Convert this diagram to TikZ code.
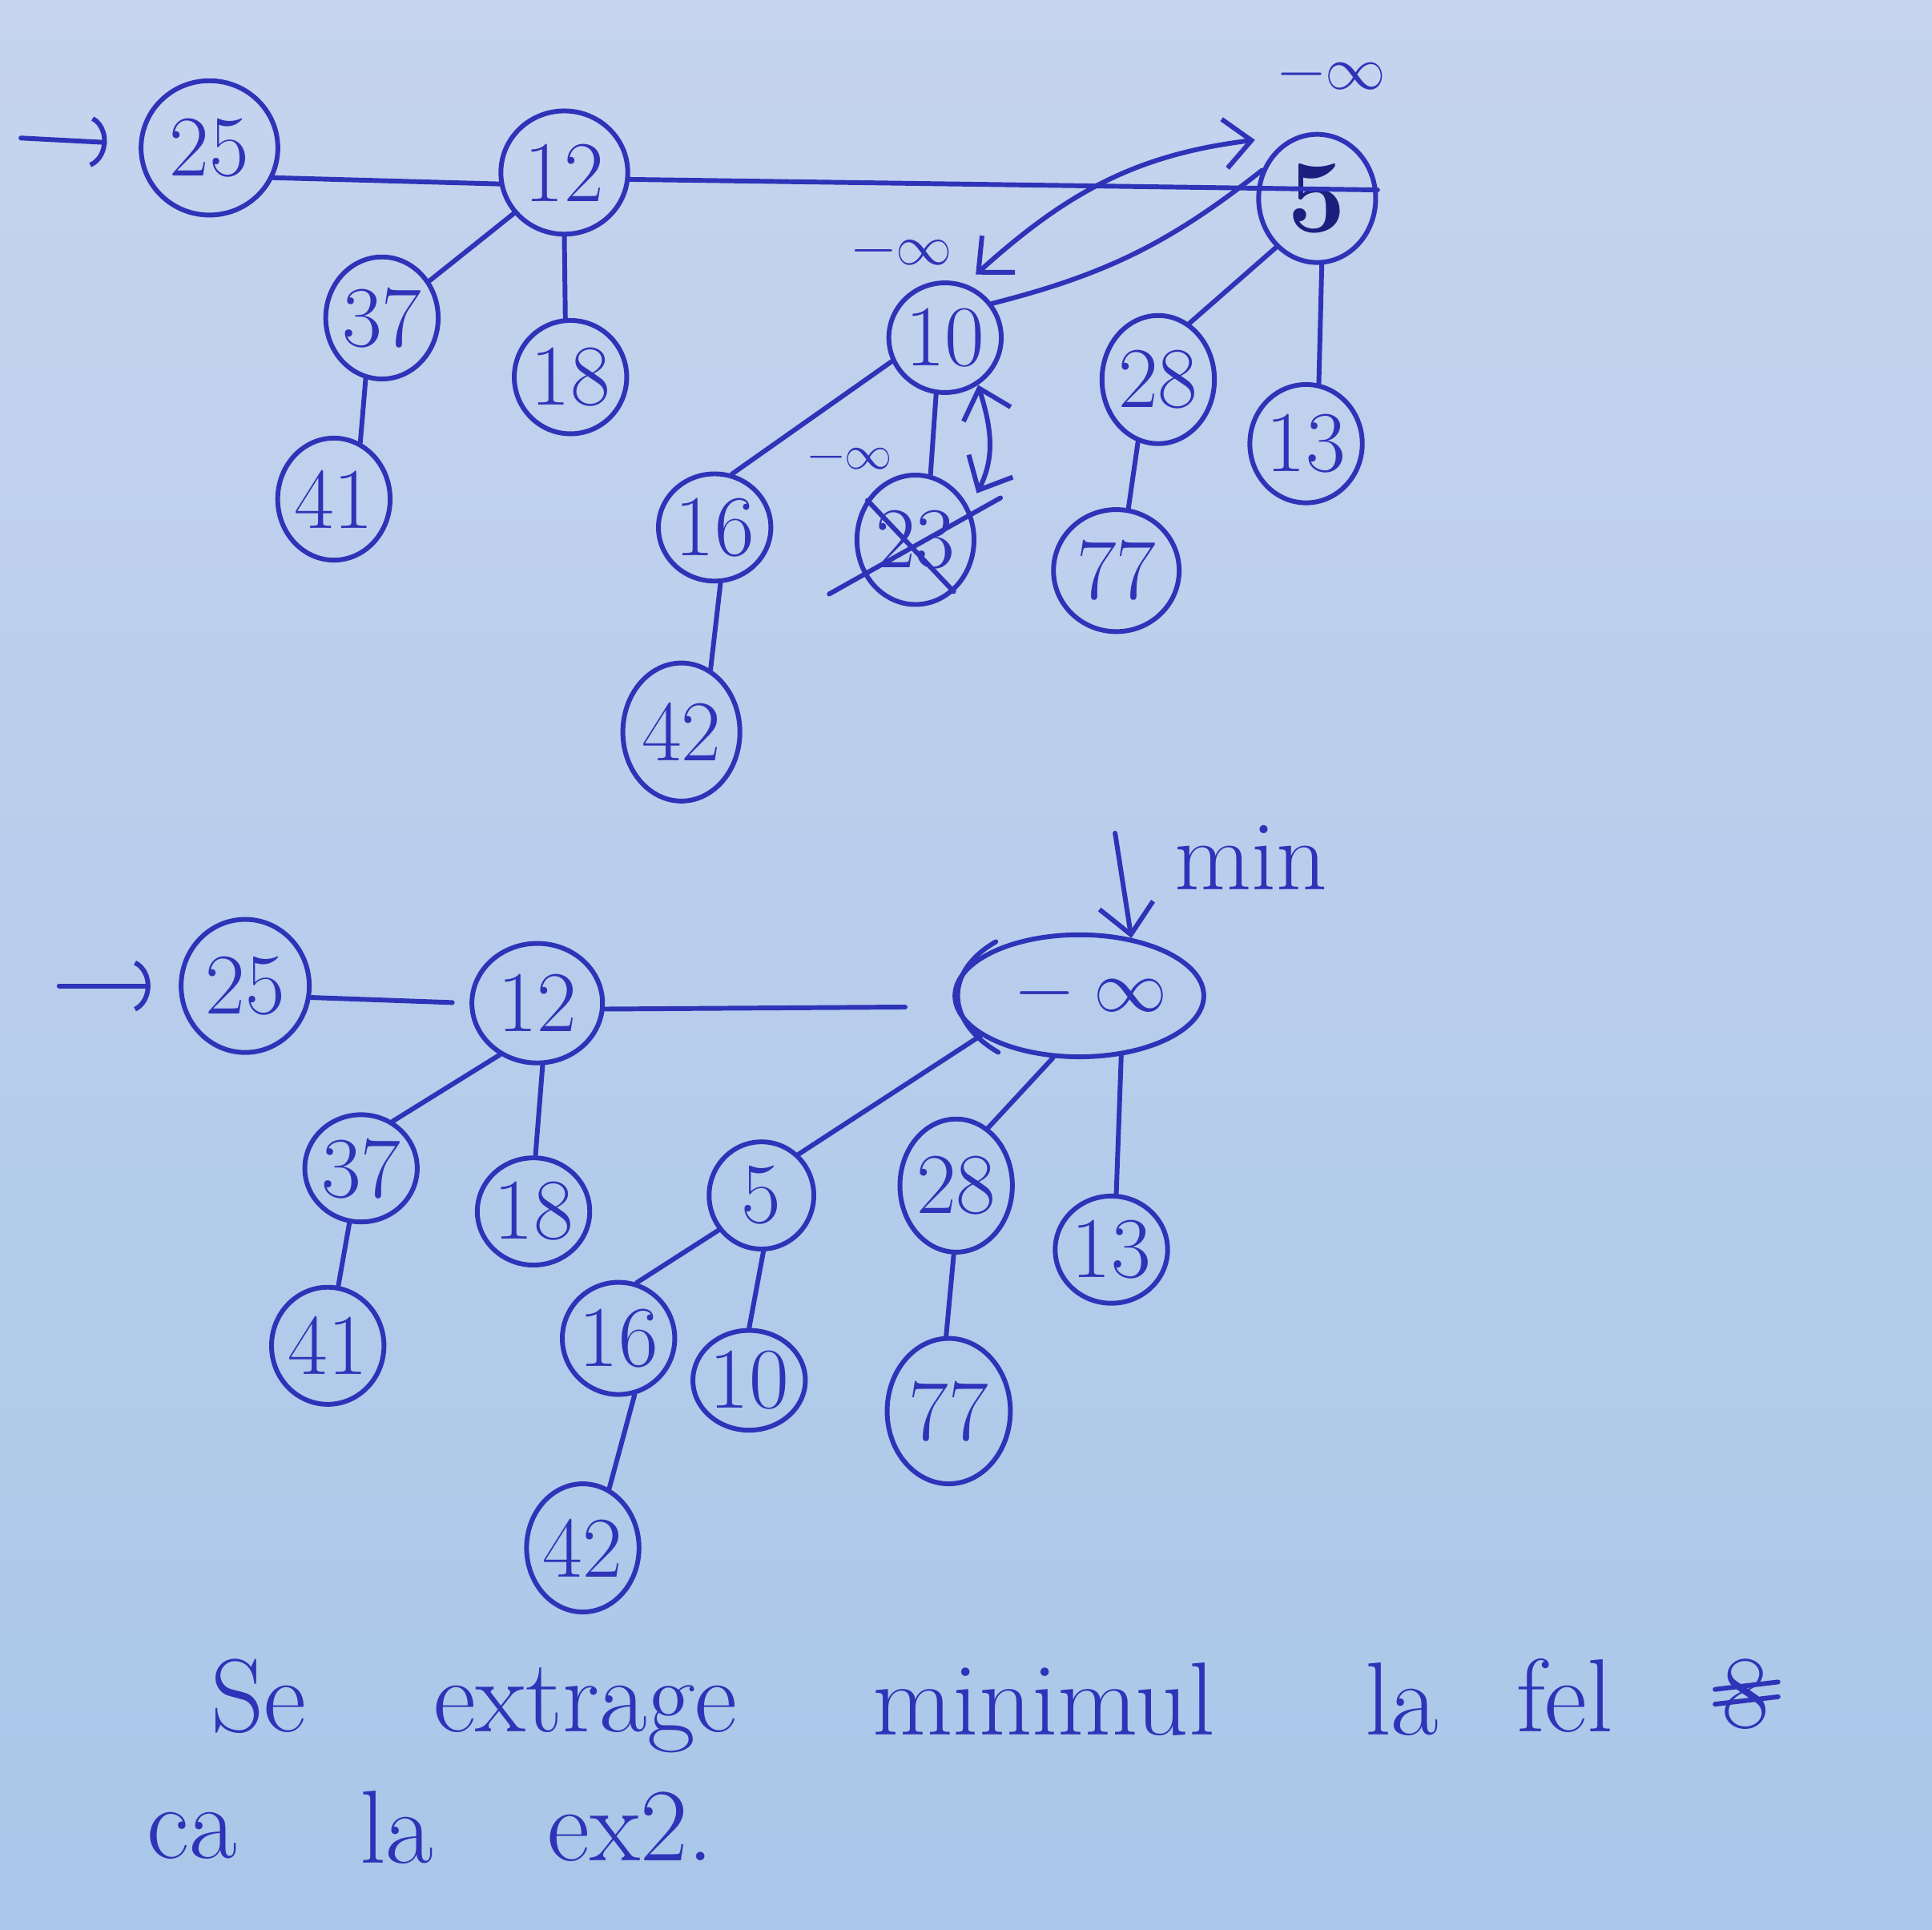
\documentclass[tikz,border=0pt]{standalone}
\usepackage{unicode-math}
\usetikzlibrary{shapes.geometric,arrows.meta,calc}
\definecolor{ink}{HTML}{2E33B8}
\definecolor{inkdark}{HTML}{1C1F7E}
\definecolor{papertop}{HTML}{C6D4EE}
\definecolor{paperbot}{HTML}{A9C7E9}

\begin{document}
\begin{tikzpicture}[x=0.1mm,y=-0.1mm,
  hn/.style={ellipse, draw=ink, line width=1.1pt, inner sep=0pt, text=ink,
             font=\fontsize{20}{20}\selectfont},
  sz/.style 2 args={minimum width=#1, minimum height=#2},
  edge/.style={draw=ink, line width=1.1pt, line cap=round},
  lbl/.style={text=ink, inner sep=0pt},
  word/.style={text=ink, inner sep=0pt, anchor=base, font=\fontsize{24}{24}\selectfont},
  hook/.style={-{Arc Barb[arc=140,length=1.8mm,width=4.4mm]}},
  barb/.style={{Straight Barb[length=2.2mm,width=4mm]}-{Straight Barb[length=2.2mm,width=4mm]}},
  vbarb/.style={-{Straight Barb[length=2.4mm,width=4.4mm]}},
]
% paper
\shade[top color=papertop, bottom color=paperbot] (0,0) rectangle (1568,1566);
\useasboundingbox (0,0) rectangle (1568,1566);

% ---------------- first heap ----------------
\node[hn, sz={11.1mm}{10.9mm}] (t25) at (170,120) {25};
\node[hn, sz={10.3mm}{10.0mm}] (t12) at (458,140) {12};
\node[hn, sz={9.1mm}{9.9mm}]   (t37) at (310,258) {37};
\node[hn, sz={8.3mm}{9.2mm}]   (t18) at (463,306) {18};
\node[hn, sz={8.8mm}{9.9mm}]   (t41) at (271,405) {41};
\node[hn, sz={9.5mm}{10.4mm}, text=inkdark, font=\fontsize{24}{24}\selectfont\bfseries] (t5) at (1069,161) {5};
\node[hn, sz={8.9mm}{8.9mm}]   (t10) at (767,274) {10};
\node[hn, sz={8.3mm}{8.7mm}]   (t16) at (580,428) {16};
\node[hn, sz={9.5mm}{11.2mm}]  (t42) at (553,594) {42};
\node[hn, sz={9.5mm}{10.5mm}]  (t23) at (743,438) {23};
\node[hn, sz={9.1mm}{10.4mm}]  (t28) at (940,308) {28};
\node[hn, sz={8.3mm}{9.6mm}]   (t13) at (1060,360) {13};
\node[hn, sz={10.2mm}{9.9mm}]  (t77) at (906,463) {77};

\node[lbl, font=\fontsize{14}{14}\selectfont] (inf5)  at (1081,62)  {$-\infty$};
\node[lbl, font=\fontsize{13}{13}\selectfont] (inf10) at (732,205)  {$-\infty$};
\node[lbl, font=\fontsize{11}{11}\selectfont] (inf23) at (690,372)  {$-\infty$};

\coordinate (tin) at (17,112);
\draw[edge, hook, shorten >=2.6mm] (tin) -- (t25);

\draw[edge] (t25.-25) -- (t12.190);
\draw[edge] (t12.-6) -- (t5.8);
\draw[edge] (t12.219) -- (t37.38);
\draw[edge] (t12.-90) -- (t18.95);
\draw[edge] (t37.-105) -- (t41.65);
\draw[edge] (t5.153) to[bend left=12] (t10.36);
\draw[edge] (t5.230) -- (t28.61);
\draw[edge] (t5.-86) -- (t13.78);
\draw[edge] (t28.-108) -- (t77.79);
\draw[edge] (t10.204) -- (t16.72);
\draw[edge] (t10.-99) -- (t23.77);
\draw[edge] (t16.-84) -- (t42.65);

% the cut node moves up to the root list
\draw[edge, barb] ($(t10.62)+(3,-10)$) to[out=42,in=187] ($(t5.135)+(-14,-11)$);
\draw[edge, barb] (t10.-55) to[out=-73,in=63] ($(t23.37)+(9,-7)$);

% deleted key
\draw[edge] ($(t23)+(-39,-32)$) -- ($(t23)+(31,42)$);
\draw[edge] ($(t23)+(-70,44)$) -- ($(t23)+(69,-34)$);

% ---------------- second heap ----------------
\node[hn, sz={10.4mm}{10.8mm}] (b25) at (199,800) {25};
\node[hn, sz={10.6mm}{9.7mm}]  (b12) at (436,814) {12};
\node[hn, sz={7.7mm}{8.7mm}]   (b37) at (293,948) {37};
\node[hn, sz={8.7mm}{8.7mm}]   (b18) at (433,983) {18};
\node[hn, sz={8.9mm}{9.5mm}]   (b41) at (266,1092) {41};
\node[hn, sz={19.5mm}{9.9mm}, font=\fontsize{17}{17}\selectfont] (binf) at (876,808) {\hspace{2mm}$-\;\infty$};
\node[hn, sz={8.5mm}{8.7mm}]   (b5)  at (618,970) {5};
\node[hn, sz={7.9mm}{9.1mm}]   (b16) at (502,1086) {16};
\node[hn, sz={7.2mm}{8.1mm}]   (b10) at (608,1120) {10};
\node[hn, sz={8.3mm}{10.4mm}]  (b42) at (473,1256) {42};
\node[hn, sz={8.5mm}{10.8mm}]  (b28) at (776,962) {28};
\node[hn, sz={7.2mm}{8.7mm}]   (b13) at (902,1014) {13};
\node[hn, sz={10.0mm}{11.8mm}] (b77) at (770,1145) {77};

% retraced left edge of the new root
\draw[edge] ($(binf.145)+(-8,-2)$) to[out=210,in=150,looseness=1.4] ($(binf.215)+(-6,4)$);

\coordinate (bin) at (48,800);
\draw[edge, hook, shorten >=2.3mm] (bin) -- (b25);

\coordinate (mintop) at (905,676);
\draw[edge, vbarb] (mintop) -- (binf.48);
\node[word, font=\fontsize{23}{23}\selectfont] (minlbl) at (1015,722) {min};

\draw[edge, shorten >=1.4mm] (b25.-10) -- (b12.180);
\draw[edge, shorten >=4mm] (b12.-5) -- (binf.185);
\draw[edge] (b12.234) -- (b37.56);
\draw[edge] (b12.-85) -- (b18.88);
\draw[edge] (b37.-102) -- (b41.80);
\draw[edge] (binf.202) -- (b5.48);
\draw[edge] (binf.247) -- (b28.61);
\draw[edge] (binf.-55) -- (b13.85);
\draw[edge] (b5.219) -- (b16.72);
\draw[edge] (b5.-88) -- (b10.90);
\draw[edge] (b16.-74) -- (b42.66);
\draw[edge] (b28.-92) -- (b77.92);

% ---------------- note ----------------
\node[word] (w1) at (210,1405)  {Se};
\node[word] (w2) at (475,1405)  {extrage};
\node[word] (w3) at (847,1408)  {minimul};
\node[word] (w4) at (1138,1408) {la};
\node[word] (w5) at (1270,1405) {fel};
\node[word] (w6) at (1417,1402) {8};
\draw[edge] ($(w6.west)+(-5,-4)$) -- ($(w6.east)+(6,-10)$);
\draw[edge] ($(w6.west)+(-5,8)$) -- ($(w6.east)+(6,2)$);
\node[word] (w7) at (156,1508)  {ca};
\node[word] (w8) at (322,1512)  {la};
\node[word] (w9) at (512,1510)  {ex2.};
\end{tikzpicture}
\end{document}
